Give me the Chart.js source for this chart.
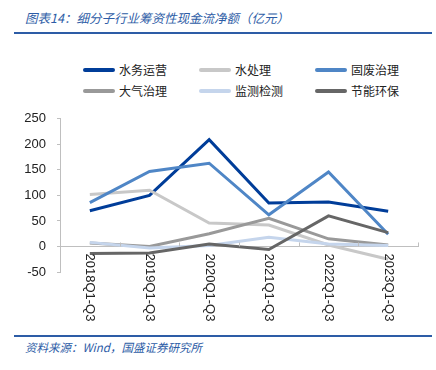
<!DOCTYPE html>
<html>
<head>
<meta charset="utf-8">
<script src="https://cdn.jsdelivr.net/npm/chart.js@4/dist/chart.umd.min.js"></script>
<style>
  body { margin: 0; width: 436px; height: 370px; background: #fff; position: relative; overflow: hidden; font-family: "Noto Sans CJK SC", sans-serif; }
  .title { position: absolute; left: 25px; top: 8px; font-size: 12.5px; font-style: italic; color: #2d5ca6; white-space: nowrap; }
  .rule { position: absolute; left: 14px; width: 418px; height: 2px; background: #2d5ca6; }
  .source { position: absolute; left: 25px; top: 339px; font-size: 11.5px; font-style: italic; color: #2d5ca6; white-space: nowrap; }
  #legend { position: absolute; left: 0; top: 0; }
  .item { position: absolute; display: flex; align-items: center; font-size: 12px; color: #222; white-space: nowrap; }
  .swatch { width: 32px; height: 4px; border-radius: 2px; margin-right: 4px; }
  #wrap { position: absolute; left: 0; top: 100px; width: 436px; height: 235px; }
</style>
</head>
<body>
<div class="title">图表14：细分子行业筹资性现金流净额（亿元）</div>
<div class="rule" style="top:32px"></div>
<div id="legend"></div>
<div id="wrap"><canvas id="c"></canvas></div>
<div class="rule" style="top:335px"></div>
<div class="source">资料来源：Wind，国盛证券研究所</div>
<script>
// categories and series (亿元)
const categories = ['2018Q1-Q3', '2019Q1-Q3', '2020Q1-Q3', '2021Q1-Q3', '2022Q1-Q3', '2023Q1-Q3'];
const seriesNames = ['水务运营', '水处理', '固废治理', '大气治理', '监测检测', '节能环保'];
const waterOps = [70, 100, 209, 85, 87, 69];
const waterTreat = [102, 110, 46, 42, 3, -25];
const solidWaste = [86, 147, 163, 62, 146, 24];
const airTreat = [7, 0, 25, 55, 15, 3];
const monitoring = [8, -3, 2, 18, 5, 2];
const energySave = [-14, -13, 5, -6, 60, 27];
const yTicks = [-50, 0, 50, 100, 150, 200, 250];

const colors = ['#003d99', '#c8c8c8', '#4f86c6', '#999999', '#c5d5ec', '#666666'];
const values = [waterOps, waterTreat, solidWaste, airTreat, monitoring, energySave];

// legend, 3 columns x 2 rows
const legendEl = document.getElementById('legend');
seriesNames.forEach((name, i) => {
  const col = i % 3, row = Math.floor(i / 3);
  const d = document.createElement('div');
  d.className = 'item';
  d.style.left = (83 + col * 116) + 'px';
  d.style.top = (61 + row * 21) + 'px';
  d.innerHTML = `<span class="swatch" style="background:${colors[i]}"></span>${name}`;
  legendEl.appendChild(d);
});

// x labels + inward tick marks drawn at the zero line
const xLabels = {
  id: 'xLabels',
  afterDraw(chart) {
    const ctx = chart.ctx, xs = chart.scales.x, ys = chart.scales.y;
    const y0 = ys.getPixelForValue(0);
    const step = xs.getPixelForValue(1) - xs.getPixelForValue(0);
    ctx.save();
    ctx.strokeStyle = '#bfbfbf';
    ctx.lineWidth = 1;
    for (let i = 0; i <= categories.length; i++) {
      const x = Math.round(xs.getPixelForValue(i) - step / 2) + 0.5;
      ctx.beginPath();
      ctx.moveTo(x, y0);
      ctx.lineTo(x, y0 - 4);
      ctx.stroke();
    }
    ctx.fillStyle = '#222';
    ctx.font = '13px "Liberation Sans"';
    ctx.textAlign = 'left';
    ctx.textBaseline = 'middle';
    categories.forEach((c, i) => {
      ctx.save();
      ctx.translate(xs.getPixelForValue(i), y0 + 7);
      ctx.rotate(Math.PI / 2);
      ctx.fillText(c, 0, 0);
      ctx.restore();
    });
    ctx.restore();
  }
};

new Chart(document.getElementById('c'), {
  type: 'line',
  data: {
    labels: categories,
    datasets: seriesNames.map((name, i) => ({
      label: name,
      data: values[i],
      borderColor: colors[i],
      backgroundColor: colors[i],
      borderWidth: 3,
      pointRadius: 0,
      tension: 0,
      order: seriesNames.length - i
    }))
  },
  options: {
    responsive: true,
    maintainAspectRatio: false,
    animation: false,
    layout: { padding: { top: 18, right: 18, bottom: 63, left: 0 } },
    plugins: { legend: { display: false }, tooltip: { enabled: false } },
    scales: {
      x: {
        type: 'category',
        offset: true,
        position: { y: 0 },
        ticks: { display: false },
        grid: { display: true, drawOnChartArea: false, drawTicks: false },
        border: { color: '#bfbfbf', width: 1 }
      },
      y: {
        min: yTicks[0],
        max: yTicks[yTicks.length - 1],
        afterBuildTicks: s => { s.ticks = yTicks.map(v => ({ value: v })); },
        afterFit: s => { s.width = 60; },
        ticks: { color: '#222', padding: 11, font: { family: 'Liberation Sans', size: 13 } },
        grid: { drawOnChartArea: false, drawTicks: true, tickLength: 3, color: '#bfbfbf' },
        border: { color: '#bfbfbf', width: 1 }
      }
    }
  },
  plugins: [xLabels]
});
</script>
</body>
</html>
